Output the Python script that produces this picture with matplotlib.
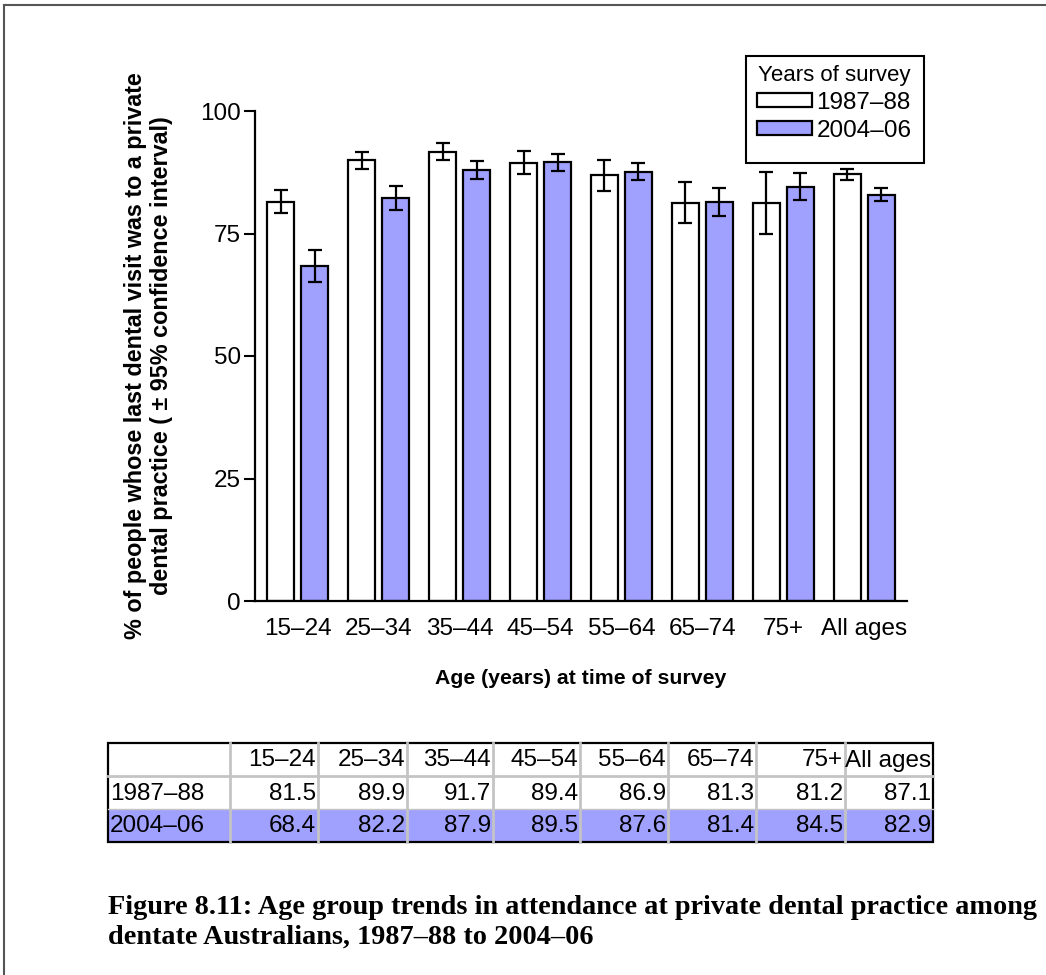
import numpy as np
import matplotlib.pyplot as plt
from matplotlib.patches import Rectangle
from matplotlib.lines import Line2D

plt.rcParams['font.family'] = ['Liberation Sans', 'DejaVu Sans']

# données : % dernière visite dans un cabinet privé
ages = ['15–24', '25–34', '35–44', '45–54', '55–64', '65–74', '75+', 'All ages']
v1987 = [81.5, 89.9, 91.7, 89.4, 86.9, 81.3, 81.2, 87.1]
v2004 = [68.4, 82.2, 87.9, 89.5, 87.6, 81.4, 84.5, 82.9]
# demi-largeur de l'intervalle de confiance à 95%
ci1987 = [2.4, 1.65, 1.7, 2.35, 3.2, 4.2, 6.4, 1.15]
ci2004 = [3.2, 2.5, 1.85, 1.7, 1.7, 2.8, 2.75, 1.3]
series = ['1987–88', '2004–06']

bleu = '#a0a0ff'
W, H = 1046, 975
fs = 17.5
fy = lambda y: 1 - y / H
fx = lambda v: v / W

fig = plt.figure(figsize=(W / 100, H / 100), dpi=100)

# cadre autour de la figure (gauche et haut seulement)
fig.add_artist(Line2D([fx(4), fx(4)], [0, fy(5)], color='#555555', lw=1.5))
fig.add_artist(Line2D([fx(4), 1], [fy(5), fy(5)], color='#555555', lw=1.5))

ax = fig.add_axes([fx(255), fy(601), (907 - 255) / W, (601 - 111) / H])
x = np.arange(len(ages))
larg = 27 / 81
dec = 17 / 81
ax.bar(x - dec, v1987, larg, color='white', edgecolor='black', lw=1.6,
       yerr=ci1987, capsize=5, error_kw=dict(elinewidth=1.6, capthick=1.6), label=series[0])
ax.bar(x + dec, v2004, larg, color=bleu, edgecolor='black', lw=1.6,
       yerr=ci2004, capsize=5, error_kw=dict(elinewidth=1.6, capthick=1.6), label=series[1])

ax.set_xlim(-0.525, 7.525)
ax.set_ylim(0, 100)
ax.set_yticks([0, 25, 50, 75, 100])
ax.set_xticks(x)
ax.set_xticklabels(ages, fontsize=fs)
ax.tick_params(axis='x', length=0, pad=12)
ax.tick_params(axis='y', length=8, width=1.5, labelsize=fs, pad=2)
for s in ['top', 'right']:
    ax.spines[s].set_visible(False)
for s in ['left', 'bottom']:
    ax.spines[s].set_linewidth(1.6)
ax.set_xlabel('Age (years) at time of survey', fontsize=15.3, fontweight='bold', labelpad=21)
ax.set_ylabel('% of people whose last dental visit was to a private\ndental practice ( ± 95% confidence interval)',
              fontsize=16.8, fontweight='bold', linespacing=1.15)
ax.yaxis.set_label_coords(-0.126, 0.5)

# légende sans cadre + cadre dessiné à part
leg = ax.legend(title='Years of survey', loc='upper left', bbox_to_anchor=(fx(752), fy(60)),
                bbox_transform=fig.transFigure, fontsize=fs, title_fontsize=16,
                handlelength=2.25, handleheight=0.5, handletextpad=0.2, borderpad=0.2,
                labelspacing=0.25, frameon=False, borderaxespad=0)
fig.add_artist(Rectangle((fx(746), fy(163)), (924 - 746) / W, (163 - 56) / H,
                         fill=False, edgecolor='black', lw=1.5))

# tableau des valeurs sous le graphique
cols = [108, 230, 318, 407, 493, 580, 668, 756, 845, 933]
rows = [743, 776, 809, 842]
fig.add_artist(Rectangle((fx(108), fy(842)), (933 - 108) / W, (842 - 809) / H, color=bleu, lw=0))
for c in cols[1:-1]:
    fig.add_artist(Line2D([fx(c), fx(c)], [fy(842), fy(743)], color='#c4c4c4', lw=2))
fig.add_artist(Line2D([fx(108), fx(933)], [fy(776), fy(776)], color='#c4c4c4', lw=2))
fig.add_artist(Rectangle((fx(108), fy(842)), (933 - 108) / W, (842 - 743) / H,
                         fill=False, edgecolor='black', lw=1.6))
fig.add_artist(Line2D([fx(108), fx(933)], [fy(809), fy(809)], color='#c4c4c4', lw=1))

tab = [[''] + ages, [series[0]] + ['%.1f' % v for v in v1987], [series[1]] + ['%.1f' % v for v in v2004]]
for i, ligne in enumerate(tab):
    yc = fy((rows[i] + rows[i + 1]) / 2 + 1)
    for j, txt in enumerate(ligne):
        if j == 0:
            fig.text(fx(cols[0] + 2), yc, txt, fontsize=fs, va='center', ha='left')
        else:
            fig.text(fx(cols[j + 1] - 2), yc, txt, fontsize=fs, va='center', ha='right')

fig.text(fx(108), fy(922), 'Figure 8.11: Age group trends in attendance at private dental practice among\n'
         'dentate Australians, 1987–88 to 2004–06', fontsize=20.3, fontweight='bold',
         family='Liberation Serif', va='center', ha='left', linespacing=1.25)

fig.savefig('out.png', dpi=100)
